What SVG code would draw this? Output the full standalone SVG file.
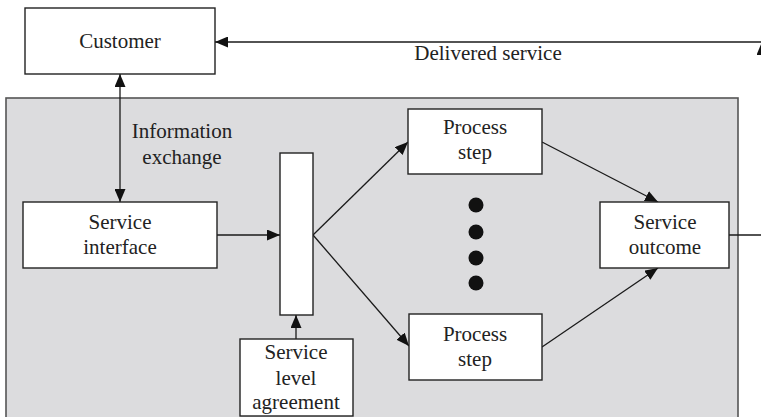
<svg xmlns="http://www.w3.org/2000/svg" width="761" height="417" viewBox="0 0 761 417">
  <style>
    .box { fill: #ffffff; stroke: #222222; stroke-width: 1.4; }
    .zone { fill: #dcdcde; stroke: #555555; stroke-width: 1.6; }
    .line { fill: none; stroke: #1a1a1a; stroke-width: 1.3; }
    .lbl { font-family: "Liberation Serif", "Times New Roman", serif; font-size: 21px; fill: #222222; text-anchor: middle; }
    .dot { fill: #111111; }
  </style>
  <defs>
    <marker id="arrow" viewBox="0 0 13 11" refX="13" refY="5.5" markerWidth="13" markerHeight="11" markerUnits="userSpaceOnUse" orient="auto-start-reverse">
      <path d="M0,0 L13,5.5 L0,11 Z" fill="#111111"/>
    </marker>
  </defs>

  <!-- service system area -->
  <rect id="service-system" class="zone" x="6" y="98" width="732" height="330"/>

  <g id="connectors">
    <line class="line" x1="763" y1="42" x2="215" y2="42" marker-end="url(#arrow)"/>
    <line class="line" x1="762" y1="235" x2="762" y2="42" marker-end="url(#arrow)"/>
    <line class="line" x1="729" y1="235" x2="763" y2="235"/>
    <line class="line" x1="120" y1="74" x2="120" y2="202" marker-start="url(#arrow)" marker-end="url(#arrow)"/>
    <line class="line" x1="217" y1="235" x2="280" y2="235" marker-end="url(#arrow)"/>
    <line class="line" x1="296" y1="339" x2="296" y2="315" marker-end="url(#arrow)"/>
    <line class="line" x1="313" y1="235" x2="408" y2="142" marker-end="url(#arrow)"/>
    <line class="line" x1="313" y1="235" x2="409" y2="346" marker-end="url(#arrow)"/>
    <line class="line" x1="542" y1="142" x2="658" y2="202" marker-end="url(#arrow)"/>
    <line class="line" x1="542" y1="347" x2="658" y2="268" marker-end="url(#arrow)"/>
  </g>

  <text class="lbl" x="488" y="60">Delivered service</text>
  <text class="lbl" x="182" y="138">Information</text>
  <text class="lbl" x="182" y="164">exchange</text>

  <g id="customer">
    <rect class="box" x="25" y="8" width="190" height="66"/>
    <text class="lbl" x="120" y="48">Customer</text>
  </g>

  <g id="service-interface">
    <rect class="box" x="23" y="202" width="194" height="66"/>
    <text class="lbl" x="120" y="229">Service</text>
    <text class="lbl" x="120" y="254">interface</text>
  </g>

  <g id="dispatch-bar">
    <rect class="box" x="280" y="153" width="33" height="162"/>
  </g>

  <g id="service-level-agreement">
    <rect class="box" x="240" y="339" width="113" height="77"/>
    <text class="lbl" x="296" y="359">Service</text>
    <text class="lbl" x="296" y="385">level</text>
    <text class="lbl" x="296" y="409">agreement</text>
  </g>

  <g id="process-step-1">
    <rect class="box" x="408" y="109" width="134" height="65"/>
    <text class="lbl" x="475" y="134">Process</text>
    <text class="lbl" x="475" y="159">step</text>
  </g>

  <g id="process-step-2">
    <rect class="box" x="409" y="314" width="133" height="66"/>
    <text class="lbl" x="475" y="341">Process</text>
    <text class="lbl" x="475" y="366">step</text>
  </g>

  <g id="ellipsis">
    <circle class="dot" cx="476" cy="205" r="7.5"/>
    <circle class="dot" cx="476" cy="232" r="7.5"/>
    <circle class="dot" cx="476" cy="258" r="7.5"/>
    <circle class="dot" cx="476" cy="283" r="7.5"/>
  </g>

  <g id="service-outcome">
    <rect class="box" x="600" y="202" width="129" height="66"/>
    <text class="lbl" x="665" y="229">Service</text>
    <text class="lbl" x="665" y="254">outcome</text>
  </g>
</svg>
